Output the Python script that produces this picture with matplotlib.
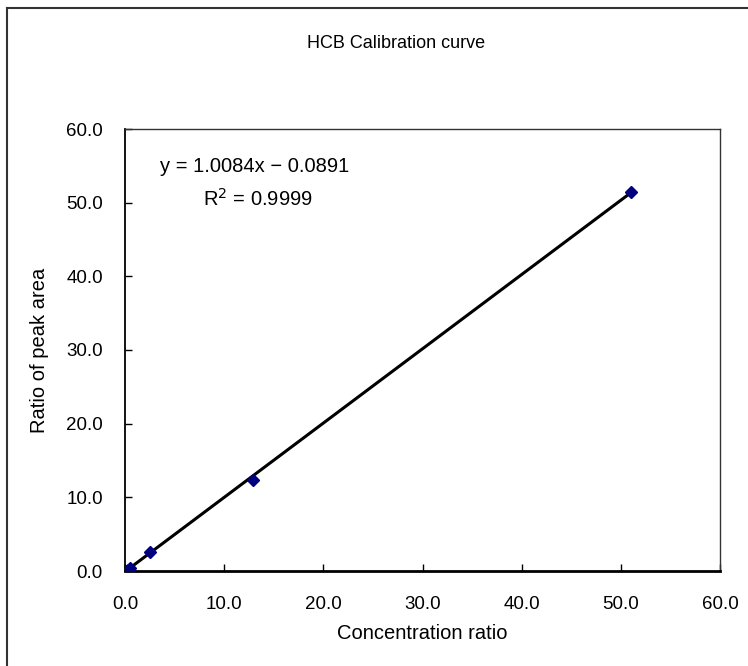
"""HCB calibration curve: peak-area ratio against concentration ratio, with linear trendline."""

import matplotlib

matplotlib.use("Agg")
import matplotlib.pyplot as plt
import numpy as np
from matplotlib.lines import Line2D

# calibration points
conc_ratio = [0.1, 0.26, 0.51, 2.55, 12.9, 51.0]
area_ratio = [0.05, 0.2, 0.45, 2.6, 12.3, 51.4]

# trendline as printed on the chart
slope = 1.0084
intercept = -0.0891
r_squared = 0.9999

ticks = [0, 10, 20, 30, 40, 50, 60]

plt.rcParams.update({"font.family": ["Liberation Sans", "DejaVu Sans"], "font.size": 13.5})

fig = plt.figure(figsize=(7.48, 6.66), dpi=100)
ax = fig.add_axes([125 / 748, 1 - 571 / 666, 595 / 748, 442 / 666])

# outer chart frame (only left and top edges are visible)
fig.add_artist(Line2D([7 / 748, 7 / 748], [0, 1 - 8 / 666], color="#333333", lw=1.5))
fig.add_artist(Line2D([7 / 748, 1], [1 - 8 / 666, 1 - 8 / 666], color="#333333", lw=1.5))

x = np.array(conc_ratio)
xfit = np.array([x.min(), x.max()])
ax.plot(xfit, slope * xfit + intercept, color="black", lw=2.2, zorder=2)
ax.plot(conc_ratio, area_ratio, ls="none", marker="D", ms=6.5,
        color="#000080", zorder=3)

ax.set_xlim(0, 60)
ax.set_ylim(0, 60)
ax.set_xticks(ticks)
ax.set_yticks(ticks)
ax.set_xticklabels([f"{t:.1f}" for t in ticks])
ax.set_yticklabels([f"{t:.1f}" for t in ticks])
ax.tick_params(direction="in", length=5, width=1, pad=16)
ax.tick_params(axis="x", pad=18)

ax.spines["left"].set_linewidth(1.3)
ax.spines["bottom"].set_linewidth(2.0)
for side in ("top", "right"):
    ax.spines[side].set_linewidth(1.0)
    ax.spines[side].set_color("#333333")

ax.set_xlabel("Concentration ratio", fontsize=14.5, labelpad=8)
ax.set_ylabel("Ratio of peak area", fontsize=14.5, labelpad=12)
fig.text(396 / 748, 1 - 43 / 666, "HCB Calibration curve", ha="center", va="center",
         fontsize=13)

ax.text(255 / 748, 1 - 167 / 666, f"y = {slope:.4f}x − {abs(intercept):.4f}",
        transform=fig.transFigure, ha="center", va="center", fontsize=14.5)
ax.text(258 / 748, 1 - 199 / 666, f"R$^2$ = {r_squared:.4f}",
        transform=fig.transFigure, ha="center", va="center", fontsize=14.5)

fig.savefig("out.png", dpi=100)
